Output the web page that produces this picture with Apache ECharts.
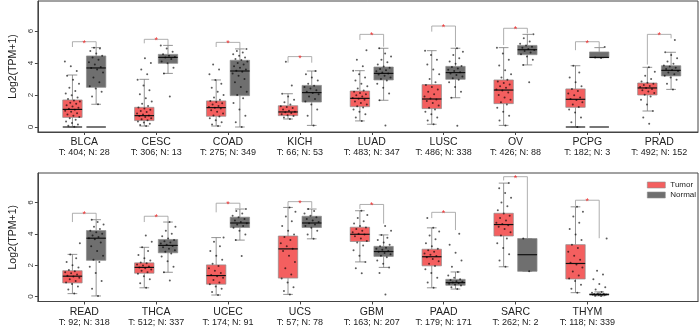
<!DOCTYPE html>
<html><head><meta charset="utf-8">
<script src="https://cdn.jsdelivr.net/npm/echarts@6/dist/echarts.min.js"></script>
<style>html,body{margin:0;padding:0;background:#fff}#c{width:699px;height:327px}</style>
</head><body><div id="c"></div>
<script>
// ---------- categories / labels ----------
const topCats = ['BLCA','CESC','COAD','KICH','LUAD','LUSC','OV','PCPG','PRAD'];
const topCounts = ['T: 404; N: 28','T: 306; N: 13','T: 275; N: 349','T: 66; N: 53','T: 483; N: 347','T: 486; N: 338','T: 426; N: 88','T: 182; N: 3','T: 492; N: 152'];
const botCats = ['READ','THCA','UCEC','UCS','GBM','PAAD','SARC','THYM'];
const botCounts = ['T: 92; N: 318','T: 512; N: 337','T: 174; N: 91','T: 57; N: 78','T: 163; N: 207','T: 179; N: 171','T: 262; N: 2','T: 118; N: 339'];
const yTicks = [0,2,4,6];

// ---------- box stats [whiskerLow, q1, median, q3, whiskerHigh] ----------
const topTumorBox = [[0,0.60,1.10,1.69,3.25],[0.06,0.40,0.71,1.23,2.98],[0.06,0.67,1.21,1.63,2.94],[0.5,0.71,0.94,1.33,2.08],[0.38,1.27,1.79,2.25,3.52],[0.17,1.15,1.75,2.65,4.77],[0.1,1.46,2.31,2.94,4.96],[0,1.23,1.73,2.38,3.83],[1.0,2.0,2.44,2.75,3.73]];
const topNormalBox = [[1.42,2.48,3.69,4.44,4.96],[3.35,3.98,4.35,4.54,5.1],[0,1.96,3.5,4.17,4.88],[0.1,1.56,2.15,2.6,3.5],[1.67,2.94,3.35,3.75,4.92],[1.83,2.98,3.4,3.79,4.92],[3.88,4.52,4.83,5.1,5.79],[4.33,4.33,4.35,4.69,4.96],[2.35,3.19,3.54,3.83,4.67]];
const botTumorBox = [[0.19,0.87,1.30,1.65,2.69],[0.56,1.49,1.86,2.15,3.14],[0.1,0.79,1.34,2.02,3.76],[0.14,1.18,3.04,3.86,5.68],[2.21,3.51,3.97,4.42,5.47],[0.56,1.96,2.54,3.02,4.38],[1.9,3.86,4.59,5.31,7.23],[0.25,1.12,2.11,3.31,5.72]];
const botNormalBox = [[0.04,2.31,3.72,4.21,4.9],[1.55,2.79,3.26,3.64,4.75],[3.6,4.4,4.69,5.06,5.58],[3.68,4.4,4.69,5.12,5.58],[1.86,2.56,2.87,3.2,3.93],[0.48,0.72,0.89,1.1,1.57],[1.61,1.61,2.67,3.7,3.7],[0.05,0.1,0.13,0.18,0.3]];
// groups showing a flat line at zero (1 = yes)
const topTumorZero = [1,0,0,0,0,0,0,1,0];
const topNormalZero = [1,0,0,0,0,0,0,1,0];

// ---------- individual sample points (thinned) ----------
const topTumorPts = [
 [0.02,0.08,0.15,0.25,0.35,0.45,0.55,0.62,0.7,0.78,0.86,0.95,1.02,1.08,1.14,1.2,1.28,1.36,1.45,1.52,1.6,1.66,1.75,1.85,1.98,2.1,2.25,2.45,2.7,2.95,3.2,3.5,3.8,4.1],
 [0.06,0.12,0.2,0.28,0.35,0.42,0.48,0.55,0.62,0.68,0.72,0.78,0.85,0.93,1.0,1.08,1.15,1.22,1.32,1.45,1.6,1.8,2.05,2.3,2.6,2.95,3.3,3.6,4.0,4.3],
 [0.06,0.15,0.3,0.42,0.55,0.65,0.72,0.85,0.95,1.05,1.15,1.2,1.25,1.32,1.4,1.48,1.56,1.62,1.7,1.85,2.0,2.2,2.45,2.7,2.94,3.3,3.6,3.9],
 [0.5,0.6,0.68,0.74,0.8,0.87,0.92,0.96,1.02,1.1,1.18,1.25,1.3,1.4,1.55,1.7,1.9,2.08,2.6,4.08],
 [0.38,0.6,0.8,0.95,1.1,1.22,1.3,1.4,1.5,1.6,1.7,1.76,1.82,1.9,1.98,2.05,2.12,2.2,2.28,2.4,2.55,2.7,2.9,3.1,3.3,3.52,3.8,4.2,4.8],
 [0.17,0.4,0.6,0.8,0.95,1.1,1.2,1.35,1.5,1.62,1.72,1.78,1.9,2.05,2.2,2.35,2.5,2.62,2.8,3.0,3.3,3.6,3.9,4.2,4.5,4.77],
 [0.1,0.4,0.7,0.95,1.2,1.4,1.55,1.7,1.85,2.0,2.15,2.28,2.35,2.45,2.55,2.65,2.75,2.85,2.95,3.1,3.3,3.55,3.85,4.2,4.6,4.96],
 [0.0,0.3,0.6,0.9,1.1,1.25,1.4,1.55,1.68,1.75,1.85,1.98,2.1,2.25,2.38,2.55,2.8,3.1,3.4,3.83],
 [0.2,0.6,1.0,1.4,1.7,1.9,2.02,2.12,2.22,2.3,2.38,2.44,2.5,2.56,2.62,2.7,2.76,2.85,3.0,3.2,3.45,3.73]
];
const topNormalPts = [
 [1.42,1.9,2.2,2.4,2.55,2.8,3.1,3.4,3.6,3.68,3.75,3.9,4.05,4.2,4.35,4.45,4.6,4.75,4.9,4.96],
 [1.9,3.35,3.7,3.98,4.1,4.25,4.35,4.38,4.45,4.54,4.7,4.9,5.1],
 [0.0,0.3,0.7,1.1,1.5,1.8,2.0,2.2,2.5,2.8,3.0,3.2,3.35,3.45,3.52,3.6,3.7,3.8,3.9,4.0,4.1,4.18,4.25,4.35,4.45,4.55,4.65,4.75,4.88],
 [0.1,0.7,1.1,1.4,1.6,1.75,1.9,2.05,2.12,2.2,2.3,2.4,2.5,2.58,2.7,2.9,3.1,3.3,3.5],
 [0.1,1.67,2.1,2.45,2.7,2.9,3.0,3.1,3.2,3.28,3.34,3.4,3.48,3.55,3.62,3.7,3.78,3.9,4.05,4.2,4.4,4.6,4.92],
 [0.08,1.83,2.2,2.5,2.8,2.95,3.05,3.15,3.25,3.35,3.42,3.5,3.58,3.66,3.75,3.82,3.95,4.1,4.3,4.5,4.7,4.92],
 [2.8,3.88,4.2,4.4,4.55,4.65,4.75,4.82,4.88,4.95,5.02,5.1,5.2,5.35,5.55,5.79],
 [4.31,4.35,5.0],
 [2.35,2.7,2.95,3.1,3.2,3.3,3.4,3.5,3.56,3.62,3.7,3.78,3.85,3.95,4.1,4.3,4.5,4.67,5.44]
];
const botTumorPts = [
 [0.19,0.45,0.65,0.8,0.9,1.0,1.1,1.2,1.28,1.33,1.4,1.48,1.55,1.62,1.7,1.85,2.0,2.2,2.45,2.69,3.4],
 [0.56,0.85,1.1,1.3,1.45,1.55,1.65,1.72,1.8,1.86,1.92,1.98,2.05,2.12,2.18,2.3,2.45,2.65,2.9,3.14,3.5,3.9],
 [0.1,0.3,0.5,0.65,0.78,0.9,1.05,1.2,1.3,1.38,1.5,1.65,1.8,1.95,2.1,2.35,2.6,2.9,3.2,3.5,3.76],
 [0.14,0.35,0.6,0.9,1.15,1.4,1.8,2.2,2.6,2.9,3.05,3.2,3.4,3.6,3.8,3.95,4.2,4.5,4.8,5.1,5.4,5.68],
 [1.49,1.8,2.21,2.6,2.95,3.25,3.45,3.55,3.7,3.85,3.95,4.0,4.1,4.2,4.3,4.4,4.5,4.65,4.8,5.0,5.2,5.47],
 [0.56,0.9,1.2,1.5,1.75,1.95,2.1,2.25,2.4,2.5,2.58,2.66,2.75,2.85,2.95,3.05,3.2,3.4,3.65,3.9,4.15,4.38,5.0],
 [1.9,2.3,2.7,3.1,3.4,3.7,3.9,4.1,4.3,4.45,4.55,4.62,4.7,4.85,5.0,5.15,5.3,5.5,5.75,6.0,6.3,6.6,6.9,7.23],
 [0.25,0.5,0.75,1.0,1.15,1.35,1.6,1.85,2.05,2.15,2.35,2.6,2.85,3.1,3.3,3.6,3.95,4.3,4.7,5.1,5.4,5.72]
];
const botNormalPts = [
 [0.04,0.5,1.0,1.5,1.9,2.2,2.35,2.6,2.9,3.2,3.45,3.65,3.72,3.8,3.9,4.0,4.1,4.2,4.3,4.45,4.6,4.75,4.9],
 [1.03,1.55,1.9,2.25,2.55,2.75,2.85,2.95,3.05,3.15,3.22,3.3,3.38,3.45,3.52,3.6,3.7,3.85,4.0,4.2,4.45,4.75],
 [2.58,3.6,3.95,4.2,4.38,4.5,4.6,4.68,4.75,4.85,4.95,5.05,5.15,5.3,5.45,5.58],
 [3.68,3.95,4.2,4.38,4.5,4.6,4.68,4.75,4.85,4.95,5.05,5.15,5.3,5.45,5.58],
 [0.14,1.5,1.86,2.1,2.3,2.5,2.6,2.7,2.78,2.85,2.9,2.98,3.05,3.12,3.2,3.3,3.45,3.6,3.75,3.93,4.2,4.5],
 [0.48,0.6,0.7,0.76,0.82,0.86,0.9,0.94,0.98,1.05,1.1,1.2,1.35,1.57,1.9,2.3,2.8,3.3,4.0],
 [1.61,3.7],
 [0.03,0.06,0.08,0.1,0.11,0.12,0.13,0.14,0.15,0.16,0.18,0.2,0.24,0.3,0.45,0.6,0.8,1.1,1.4,1.65,3.7]
];

// ---------- significance brackets [top, leftLegEnd, rightLegEnd] ----------
const topBrackets = [[5.33,5.0,4.98],[5.48,5.23,5.12],[5.29,5.0,4.9],[4.4,4.02,4.02],[5.79,5.44,5.02],[6.31,5.96,5.02],[6.17,5.12,5.85],[5.33,4.8,5.0],[5.79,3.9,5.54]];
const botBrackets = [[5.31,4.75,4.9],[5.12,4.75,4.75],[5.95,5.37,5.62],[6.05,5.68,5.62],[5.87,5.58,4.65],[5.37,5.0,4.24],[7.64,7.4,3.72],[6.14,5.78,3.72]];

// ---------- style ----------
const TUMOR = '#F45F5F', NORMAL = '#6F6F6F';
const OFF = 0.165, BOXW = 0.27;
const FONT = 'Liberation Sans, Arial, sans-serif';
const XMIN = 0.3546, XMAX = 9.5396, YMIN = -0.3125, YMAX = 7.875;

function boxData(stats, zeros, sign) {
  return stats.map((s, i) => [i + 1 + sign * OFF, s[0], s[1], s[2], s[3], s[4], zeros ? zeros[i] : 0]);
}
function ptsData(pts, sign) {
  const out = [];
  pts.forEach((arr, i) => {
    arr.forEach((v, j) => {
      const jit = (((j + 1) * 0.618034) % 1 - 0.5) * BOXW * 0.8;
      out.push([i + 1 + sign * OFF + jit, v]);
    });
  });
  return out;
}
function boxRender(fill) {
  return function (params, api) {
    const x = api.value(0);
    const lo = api.coord([x, api.value(1)]), q1 = api.coord([x, api.value(2)]);
    const md = api.coord([x, api.value(3)]), q3 = api.coord([x, api.value(4)]);
    const hi = api.coord([x, api.value(5)]);
    const w = api.size([BOXW, 0])[0], cap = w / 2;
    const cx = lo[0];
    const wc = { stroke: '#7a7a7a', lineWidth: 0.8 };
    const ch = [
      { type: 'line', shape: { x1: cx, y1: lo[1], x2: cx, y2: q1[1] }, style: wc },
      { type: 'line', shape: { x1: cx, y1: q3[1], x2: cx, y2: hi[1] }, style: wc },
      { type: 'line', shape: { x1: cx - cap / 2, y1: lo[1], x2: cx + cap / 2, y2: lo[1] }, style: wc },
      { type: 'line', shape: { x1: cx - cap / 2, y1: hi[1], x2: cx + cap / 2, y2: hi[1] }, style: wc },
      { type: 'rect', shape: { x: cx - w / 2, y: q3[1], width: w, height: Math.max(q1[1] - q3[1], 1) }, style: { fill: fill, stroke: '#8e8e8e', lineWidth: 0.7 } },
      { type: 'line', shape: { x1: cx - w / 2, y1: md[1], x2: cx + w / 2, y2: md[1] }, style: { stroke: '#111', lineWidth: 1.2 } }
    ];
    if (api.value(6)) {
      const z = api.coord([x, 0]);
      ch.push({ type: 'line', shape: { x1: cx - w / 2, y1: z[1], x2: cx + w / 2, y2: z[1] }, style: { stroke: '#4a4a4a', lineWidth: 1.5 } });
    }
    return { type: 'group', children: ch };
  };
}
function bracketRender(params, api) {
  const s = api.value(0);
  const tl = api.coord([s - OFF, api.value(1)]), tr = api.coord([s + OFF, api.value(1)]);
  const bl = api.coord([s - OFF, api.value(2)]), br = api.coord([s + OFF, api.value(3)]);
  return { type: 'group', children: [
    { type: 'polyline', shape: { points: [[bl[0], bl[1]], [tl[0], tl[1]], [tr[0], tr[1]], [br[0], br[1]]] }, style: { stroke: '#9a9a9a', lineWidth: 0.8, fill: null } },
    { type: 'text', x: (tl[0] + tr[0]) / 2, y: tl[1] + 1.5, style: { text: '*', fill: '#f03030', fontSize: 9, fontFamily: FONT, align: 'center', verticalAlign: 'middle' } }
  ] };
}
function xAxis(gi, cats, counts) {
  const vals = cats.map((c, i) => i + 1);
  return {
    type: 'value', gridIndex: gi, min: XMIN, max: XMAX,
    axisLine: { show: true, onZero: false, lineStyle: { color: '#444', width: 1 } },
    axisTick: { show: true, length: 3, customValues: vals, lineStyle: { color: '#444' } },
    splitLine: { show: false },
    axisLabel: {
      customValues: vals, margin: 5,
      formatter: v => { const i = Math.round(v) - 1; return '{n|' + cats[i] + '}\n{c|' + counts[i] + '}'; },
      rich: { n: { fontSize: 10.5, color: '#222', lineHeight: 11, fontFamily: FONT }, c: { fontSize: 9, color: '#222', lineHeight: 10, fontFamily: FONT } }
    }
  };
}
function yAxis(gi) {
  return {
    type: 'value', gridIndex: gi, min: YMIN, max: YMAX,
    name: 'Log2(TPM+1)', nameLocation: 'middle', nameRotate: 90, nameGap: 13,
    nameTextStyle: { fontSize: 10.5, color: '#222', fontFamily: FONT },
    axisLine: { show: true, lineStyle: { color: '#444', width: 1 } },
    axisTick: { show: true, length: 3, customValues: yTicks, lineStyle: { color: '#444' } },
    splitLine: { show: false },
    axisLabel: { customValues: yTicks, rotate: 90, fontSize: 8, color: '#333', margin: 3, fontFamily: FONT }
  };
}
function panelSeries(gi, tBox, nBox, tZero, nZero, tPts, nPts, br) {
  return [
    { type: 'custom', name: 'Tumor', xAxisIndex: gi, yAxisIndex: gi, itemStyle: { color: TUMOR }, renderItem: boxRender(TUMOR), data: boxData(tBox, tZero, -1), silent: true, z: 2 },
    { type: 'custom', name: 'Normal', xAxisIndex: gi, yAxisIndex: gi, itemStyle: { color: NORMAL }, renderItem: boxRender(NORMAL), data: boxData(nBox, nZero, 1), silent: true, z: 2 },
    { type: 'scatter', xAxisIndex: gi, yAxisIndex: gi, symbolSize: 2, itemStyle: { color: 'rgba(0,0,0,0.8)' }, data: ptsData(tPts, -1).concat(ptsData(nPts, 1)), silent: true, z: 3 },
    { type: 'custom', xAxisIndex: gi, yAxisIndex: gi, renderItem: bracketRender, data: br.map((b, i) => [i + 1, b[0], b[1], b[2]]), silent: true, z: 4 }
  ];
}

const chart = echarts.init(document.getElementById('c'), null, { renderer: 'canvas' });
chart.setOption({
  animation: false,
  textStyle: { fontFamily: FONT },
  grid: [
    { left: 22, top: 1, width: 676, height: 131, show: true, borderColor: '#444', borderWidth: 1 },
    { left: 22, top: 173, width: 676, height: 132, show: true, borderColor: '#444', borderWidth: 1 }
  ],
  legend: {
    orient: 'vertical', left: 647, top: 181, padding: 0, itemWidth: 18, itemHeight: 6, itemGap: 2,
    textStyle: { fontSize: 8, color: '#222', fontFamily: FONT },
    data: [{ name: 'Tumor', icon: 'rect' }, { name: 'Normal', icon: 'rect' }],
    itemStyle: { borderColor: '#8e8e8e', borderWidth: 0.6 }
  },
  xAxis: [xAxis(0, topCats, topCounts), xAxis(1, botCats, botCounts)],
  yAxis: [yAxis(0), yAxis(1)],
  series: panelSeries(0, topTumorBox, topNormalBox, topTumorZero, topNormalZero, topTumorPts, topNormalPts, topBrackets)
    .concat(panelSeries(1, botTumorBox, botNormalBox, null, null, botTumorPts, botNormalPts, botBrackets))
});
</script></body></html>
